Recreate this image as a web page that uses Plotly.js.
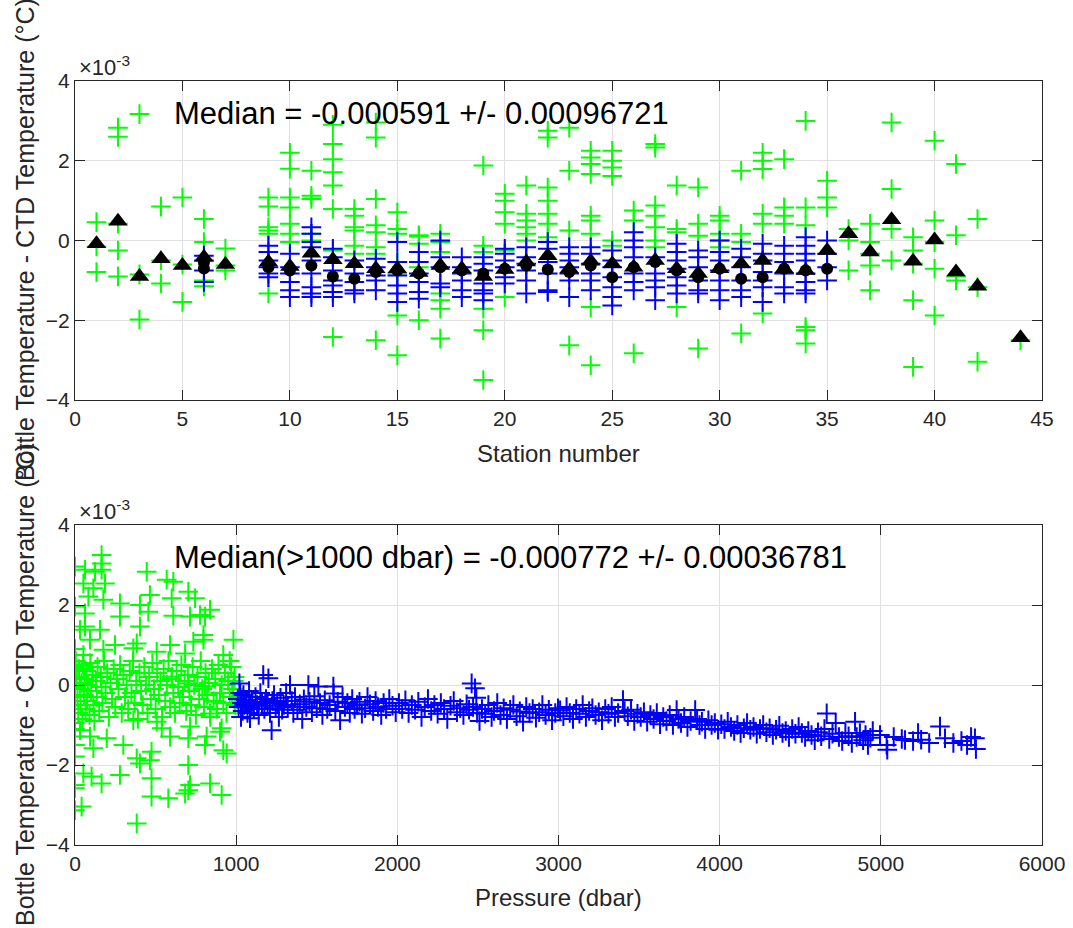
<!DOCTYPE html>
<html>
<head>
<meta charset="utf-8">
<script src="https://cdn.plot.ly/plotly-3.0.1.min.js"></script>
<style>html,body{margin:0;padding:0;background:#fff;}#chart{width:1073px;height:928px;}</style>
</head>
<body>
<div id="chart"></div>
<script>
// ---------- Top panel: per-station differences (units of 1e-3 degC) ----------
const greenTop = {
  1:[0.46,-0.15,-0.79], 2:[2.83,2.6,0.42,-0.25,-0.9], 3:[3.17,-0.85,-1.98], 4:[0.85,-0.5,-1.08],
  5:[1.08,-0.6,-1.54], 6:[0.54,-0.04,-1.0,-1.15], 7:[-0.2,-0.63,-0.75],
  9:[1.08,0.85,0.33,0.25,0.17,-1.33], 10:[2.2,1.8,1.08,0.83,0.42,0.17,-0.04],
  11:[1.75,1.12,1.04,0.17,0.0], 12:[2.9,2.42,2.04,1.71,1.38,0.79,-0.25,-2.42],
  13:[0.79,0.62,0.33,0.25,-0.13,-0.33], 14:[2.96,2.58,1.04,0.38,0.21,-0.17,-0.33,-2.5],
  15:[0.71,0.29,0.17,-0.54,-0.83,-1.88,-2.88], 16:[0.13,0.1,-0.08,-0.67,-2.0],
  17:[0.17,-0.04,-0.29,-1.33,-1.5,-1.71,-2.46], 19:[1.88,-0.13,-0.29,-1.71,-2.25,-3.5],
  20:[1.17,1.0,0.71,0.42,-0.25,-1.42], 21:[1.38,0.67,0.5,0.33,0.17,0.0],
  22:[2.75,2.58,1.33,1.0,0.67,0.42,0.08], 23:[2.83,1.75,0.25,-2.63],
  24:[2.25,2.08,1.92,1.67,0.62,0.5,0.17,-1.67,-3.13], 25:[2.25,2.0,1.83,1.62,0.0,-0.13],
  26:[0.75,0.5,-2.83], 27:[2.42,2.33,0.88,0.62,0.33,0.0,-0.17], 28:[1.38,0.29,0.21,-1.67],
  29:[1.33,0.42,0.12,-2.71], 30:[0.62,0.5,0.17,0.0,-0.17], 31:[1.75,0.17,-0.04,-2.33],
  32:[2.2,2.0,1.79,0.67,0.42,-1.83], 33:[2.04,0.83,0.62,0.42], 34:[3.0,0.83,0.38,-2.17,-2.25,-2.58],
  35:[1.5,1.08,0.83], 36:[0.29,0.0,-0.75], 37:[0.42,-0.04,-0.33,-0.63,-1.25],
  38:[2.96,1.29,0.29,-0.5], 39:[0.08,-0.25,-0.58,-1.5,-3.17], 40:[2.5,0.5,-0.04,-0.71,-1.88],
  41:[1.92,0.13,-0.9,-1.0], 42:[0.54,-1.17,-3.04], 44:[-2.5]
};
const blueTop = {
  6:[-0.38,-0.5,-0.75,-1.04], 9:[-0.13,-0.29,-0.5,-0.67,-0.83,-0.92],
  10:[-0.33,-0.67,-0.83,-1.04,-1.25,-1.42], 11:[0.33,0.17,-0.04,-0.17,-0.5,-0.83,-1.17,-1.33,-1.42],
  12:[-0.21,-0.42,-0.75,-1.0,-1.13,-1.29,-1.42], 13:[-0.5,-0.83,-1.04,-1.25,-1.33],
  14:[-0.46,-0.67,-0.88,-1.0,-1.25], 15:[-0.04,-0.54,-0.88,-1.13,-1.33,-1.54],
  16:[-0.29,-0.54,-0.83,-1.04,-1.29,-1.46], 17:[0.0,-0.42,-0.67,-1.08,-1.17],
  18:[-0.42,-0.67,-0.83,-1.0,-1.25,-1.42], 19:[-0.42,-0.58,-0.75,-1.08,-1.25,-1.33,-1.5],
  20:[-0.21,-0.33,-0.5,-0.67,-0.92,-1.08], 21:[-0.17,-0.42,-0.58,-0.75,-1.0,-1.33],
  22:[-0.04,-0.21,-0.54,-0.83,-1.25,-1.29], 23:[-0.17,-0.33,-0.5,-0.67,-0.83,-1.0,-1.42],
  24:[-0.17,-0.33,-0.58,-0.83,-1.0,-1.25], 25:[-0.25,-0.5,-0.67,-0.92,-1.17,-1.42,-1.63],
  26:[0.21,0.0,-0.17,-0.42,-0.83,-1.04,-1.25], 27:[-0.42,-0.83,-1.0,-1.17,-1.5],
  28:[-0.08,-0.29,-0.5,-0.71,-0.92,-1.13,-1.33], 29:[-0.25,-0.42,-0.67,-1.0,-1.25,-1.33],
  30:[0.0,-0.29,-0.5,-0.75,-1.0,-1.25,-1.5], 31:[-0.21,-0.42,-0.67,-1.0,-1.25,-1.42],
  32:[-0.08,-0.33,-0.5,-0.79,-1.0,-1.17,-1.54], 33:[-0.13,-0.33,-0.54,-0.83,-1.17,-1.33],
  34:[0.08,-0.13,-0.33,-0.5,-0.83,-1.04,-1.25,-1.33], 35:[0.0,-0.33,-0.67,-1.0]
};
const medAllStations = [1,2,3,4,5,6,7,9,10,11,12,13,14,15,16,17,18,19,20,21,22,23,24,25,26,27,28,29,30,31,32,33,34,35,36,37,38,39,40,41,42,44];
const medAllValues   = [-0.08,0.48,-0.9,-0.46,-0.63,-0.42,-0.6,-0.54,-0.65,-0.32,-0.48,-0.58,-0.71,-0.71,-0.8,-0.63,-0.71,-0.9,-0.73,-0.54,-0.38,-0.71,-0.52,-0.58,-0.67,-0.5,-0.71,-0.83,-0.71,-0.58,-0.5,-0.71,-0.75,-0.25,0.17,-0.29,0.52,-0.52,0.01,-0.79,-1.15,-2.44];
const medDeepStations = [6,6,9,10,11,12,13,14,15,16,17,18,19,20,21,22,23,24,25,26,27,28,29,30,31,32,33,34,35];
const medDeepValues   = [-0.55,-0.7,-0.67,-0.75,-0.63,-0.9,-0.96,-0.79,-0.75,-0.83,-0.67,-0.75,-0.83,-0.71,-0.63,-0.73,-0.79,-0.63,-0.92,-0.67,-0.54,-0.75,-0.92,-0.71,-0.96,-0.92,-0.71,-0.75,-0.71];

// ---------- Bottom panel: pressure (dbar) vs difference (1e-3 degC) ----------
const greenPress = [165,165,165,0,62,124,186,52,114,83,176,0,279,279,445,569,610,703,465,600,745,403,455,610,714,776,838,807,403,62,62,155,797,797,983,734,590,383,248,93,31,683,920,507,362,176,52,
  300,383,403,475,465,703,590,703,807,817,900,910,941,920,52,103,165,279,475,714,703,838,910,683,475,579,0,0,41,0,383,93,114,197,0,0,0,31,362,507,538,714,838,879,703,807,600,
  5,10,15,20,25,30,35,40,45,50,55,60,65,70,75,80,90,95,100,110,115,120,130,135,140,150,160,165,170,180,190,200,210,220,230,240,250,260,270,280,290,300,310,320,330,340,350,360,370,380,390,400,410,420,430,440,450,460,470,480,490,500,510,520,530,540,550,560,570,580,590,600,610,620,630,640,650,660,670,680,690,700,710,720,730,740,750,760,770,780,790,800,810,820,830,840,850,860,870,880,890,900,910,920,930,940,950,960,970,980,990,995,
  0,0,0,0,0,0,0,960,975,985,990];
const greenDiff  = [3.25,3.04,2.88,2.96,2.88,2.83,2.54,2.54,2.42,2.21,2.13,1.96,2.04,1.71,2.83,2.63,2.58,2.33,2.25,2.17,2.17,2.0,1.83,1.73,1.71,1.75,1.88,1.71,1.46,1.79,1.46,1.38,1.25,1.13,1.13,1.08,1.0,1.04,1.0,1.13,1.38,0.79,0.75,0.83,0.92,0.88,0.75,
  -1.5,-1.83,-1.96,-1.67,-1.88,-2.0,-1.29,-1.33,-1.5,-1.29,-1.17,-1.08,-1.71,-1.63,-2.21,-2.29,-2.46,-2.25,-2.33,-2.5,-2.63,-2.46,-2.75,-2.71,-2.79,-2.83,-2.5,-2.58,-3.04,-3.13,-3.46,-1.29,-1.58,-1.33,-1.79,-1.5,-1.29,-1.13,-0.88,-0.92,-1.08,-1.04,-0.71,-0.42,0.04,-0.04,0.21,
  0.6,0.2,-0.3,-0.7,0.4,-0.1,-0.5,0.05,-0.85,0.5,-0.25,0.15,-0.6,0.35,-0.4,0.0,-0.75,0.55,-0.15,0.25,-0.5,-0.9,0.1,-0.3,0.45,-0.65,0.2,-0.05,-0.45,0.6,-0.2,0.3,-0.8,0.05,-0.35,0.4,-0.55,0.15,-0.1,0.5,-0.7,0.25,-0.3,0.0,-0.6,0.35,-0.2,0.6,-0.45,0.1,-0.85,0.3,-0.15,-0.5,0.45,0.0,-0.7,0.2,-0.35,0.55,-0.1,-0.6,0.3,-0.25,0.1,-0.8,0.4,-0.4,0.0,0.6,-0.55,0.15,-0.2,-0.7,0.35,-0.05,-0.45,0.5,-0.3,0.1,-0.65,0.25,-0.15,-0.5,0.45,0.0,-0.75,0.2,-0.35,0.6,-0.1,-0.55,0.3,-0.25,0.05,-0.8,0.4,-0.4,0.15,-0.6,0.5,-0.2,0.0,-0.45,0.3,-0.7,0.1,-0.3,0.45,-0.1,0.2,-0.5,
  0.9,0.45,-0.05,-0.4,-0.6,-0.95,-1.1,0.6,-0.2,0.1,-0.45];

const bluePress = [1010,1015,1020,1025,1030,1035,1040,1045,1050,1060,1070,1080,1086,1090,1100,1110,1120,1130,1140,1150,1160,1168,1175,1185,1195,1200,1210,1220,1225,1235,1245,1255,1265,1275,1285,1295,
  1310,1320,1334,1345,1355,1365,1380,1395,1410,1420,1435,1448,1455,1470,1485,1500,1510,1520,1535,1550,1565,1580,1603,1605,1615,1630,1645,1660,1675,1690,1705,1720,1735,1750,1765,1780,1800,1815,1830,1850,1865,1880,1900,1915,1930,1950,1970,1990,
  2010,2030,2050,2070,2090,2110,2130,2150,2170,2190,2210,2230,2250,2270,2290,2310,2330,2350,2370,2390,2410,2430,2445,2461,2470,2482,2490,2495,
  2510,2525,2545,2565,2585,2600,2620,2640,2660,2680,2700,2720,2740,2760,2780,2800,2820,2840,2860,2880,2900,2920,2940,2960,2980,2997,
  3010,3030,3050,3070,3090,3110,3130,3150,3170,3190,3210,3230,3250,3270,3290,3310,3330,3350,3370,3400,3410,3430,3450,3470,3490,
  3510,3530,3550,3570,3590,3610,3630,3650,3670,3690,3710,3733,3745,3760,3780,3800,3820,3848,3860,3875,3890,3910,3930,3950,3970,3990,
  4010,4030,4050,4070,4090,4110,4130,4150,4170,4190,4210,4230,4250,4270,4290,4310,4330,4350,4370,4390,4410,4430,4450,4470,4490,
  4510,4530,4550,4570,4590,4610,4630,4650,4664,4680,4700,4720,4740,4760,4780,4800,4820,4840,4850,4870,4890,4905,4920,4935,4950,
  4995,5036,5040,5080,5130,5150,5200,5231,5250,5300,5367,5398,5450,5500,5535,5560,5584,5590];
const blueDiff = [-0.35,-0.55,0.04,-0.2,-0.8,-0.45,-0.65,-0.25,-0.5,-0.38,-0.7,-0.15,-0.83,-0.55,-0.42,-0.6,-0.3,-0.5,-0.75,-0.2,-0.45,0.25,-0.6,-0.35,-0.52,0.17,-0.7,-1.13,-0.4,-0.25,-0.58,-0.45,-0.8,-0.32,-0.62,-0.5,
  -0.2,-0.55,0.0,-0.4,-0.7,-0.3,-0.62,-0.48,-0.85,-0.36,-0.55,0.0,-0.42,-0.68,-0.28,-0.58,-0.04,-0.45,-0.75,-0.38,-0.6,-0.5,-0.04,-0.21,-0.65,-0.42,-0.88,-0.3,-0.55,-0.45,-0.7,-0.35,-0.6,-0.5,-0.42,-0.72,-0.58,-0.3,-0.48,-0.65,-0.4,-0.55,-0.75,-0.45,-0.6,-0.35,-0.52,-0.68,
  -0.45,-0.6,-0.38,-0.7,-0.5,-0.62,-0.42,-0.8,-0.55,-0.35,-0.65,-0.5,-0.72,-0.45,-0.6,-0.85,-0.52,-0.4,-0.68,-0.58,-0.75,-0.48,-0.62,0.04,-0.55,-0.08,-0.32,-0.7,
  -0.9,-0.6,-0.72,-0.5,-0.8,-0.65,-0.45,-0.75,-0.58,-0.85,-0.62,-0.5,-0.78,-0.66,-0.92,-0.55,-0.7,-0.6,-0.82,-0.68,-0.5,-0.75,-0.62,-0.88,-0.7,-0.58,
  -0.63,-0.78,-0.55,-0.7,-0.85,-0.6,-0.72,-0.5,-0.8,-0.65,-0.58,-0.75,-0.68,-0.88,-0.6,-0.72,-0.55,-0.8,-0.7,-0.375,-0.65,-0.78,-0.62,-0.9,-0.72,
  -0.8,-0.68,-0.92,-0.75,-0.85,-0.7,-0.98,-0.8,-0.9,-0.75,-1.0,-0.625,-0.85,-0.95,-0.8,-1.05,-0.9,-0.625,-0.85,-1.0,-0.92,-1.1,-0.88,-1.0,-0.95,-1.12,
  -0.98,-1.1,-0.92,-1.05,-1.15,-1.0,-1.2,-1.08,-0.95,-1.12,-1.05,-1.22,-1.1,-1.0,-1.18,-1.08,-1.25,-1.12,-1.02,-1.2,-1.15,-1.3,-1.1,-1.22,-1.05,
  -1.2,-1.3,-1.15,-1.25,-1.38,-1.18,-1.28,-1.1,-0.71,-1.35,-1.22,-0.95,-1.3,-1.4,-1.2,-1.28,-1.45,-0.92,-1.3,-1.2,-1.38,-1.25,-1.5,-1.32,-1.15,
  -1.25,-1.5,-1.62,-1.3,-1.35,-1.375,-1.4,-1.2,-1.37,-1.45,-1.04,-1.33,-1.45,-1.4,-1.5,-1.3,-1.33,-1.6];

const yTicks = [-4,-2,0,2,4];
const topText = 'Median = -0.000591 +/- 0.00096721';
const bottomText = 'Median(>1000 dbar) = -0.000772 +/- 0.00036781';
const yTitle = 'Bottle Temperature - CTD Temperature (\u00B0C)';
const xTitleTop = 'Station number';
const xTitleBottom = 'Pressure (dbar)';

// flatten station dictionaries
function flatten(d){ const xs=[], ys=[]; Object.keys(d).forEach(k=>{ d[k].forEach(v=>{ xs.push(+k); ys.push(v); }); }); return [xs,ys]; }
const [gTx, gTy] = flatten(greenTop);
const [bTx, bTy] = flatten(blueTop);

const FONT = 'Liberation Sans, Arial, Helvetica, sans-serif';
const TXT = '#262626';
const GREEN = '#00ff00', BLUE = '#0000ff';
const plus = (c)=>({symbol:'cross-thin', size:14, line:{color:c, width:2}, color:c});

const traces = [
  {x:gTx, y:gTy, xaxis:'x', yaxis:'y', type:'scatter', mode:'markers', marker:plus(GREEN)},
  {x:bTx, y:bTy, xaxis:'x', yaxis:'y', type:'scatter', mode:'markers', marker:plus(BLUE)},
  {x:medDeepStations, y:medDeepValues, xaxis:'x', yaxis:'y', type:'scatter', mode:'markers', marker:{symbol:'circle', size:12, color:'#000'}},
  {x:medAllStations, y:medAllValues, xaxis:'x', yaxis:'y', type:'scatter', mode:'markers', marker:{symbol:'triangle-up', size:17, color:'#000'}},
  {x:greenPress, y:greenDiff, xaxis:'x2', yaxis:'y2', type:'scatter', mode:'markers', marker:plus(GREEN)},
  {x:bluePress, y:blueDiff, xaxis:'x2', yaxis:'y2', type:'scatter', mode:'markers', marker:plus(BLUE)}
];

const W=1073, H=928;
const px = v=>v/W, py = v=>1-v/H;
const axBase = {
  showline:true, linecolor:'#262626', linewidth:1, mirror:'ticks',
  ticks:'inside', ticklen:10, tickcolor:'#262626', tickwidth:1,
  showgrid:true, gridcolor:'#e0e0e0', gridwidth:1, zeroline:false,
  tickfont:{family:FONT, size:21, color:TXT}, fixedrange:true
};

const layout = {
  width:W, height:H, margin:{l:0,r:0,t:0,b:0}, paper_bgcolor:'#fff', plot_bgcolor:'#fff',
  showlegend:false, font:{family:FONT, color:TXT},
  xaxis: Object.assign({}, axBase, {domain:[px(75),px(1042)], range:[0,45], tickvals:[0,5,10,15,20,25,30,35,40,45], anchor:'y'}),
  yaxis: Object.assign({}, axBase, {domain:[py(400),py(81)], range:[-4,4], tickvals:yTicks, anchor:'x'}),
  xaxis2: Object.assign({}, axBase, {domain:[px(75),px(1042)], range:[0,6000], tickvals:[0,1000,2000,3000,4000,5000,6000], anchor:'y2'}),
  yaxis2: Object.assign({}, axBase, {domain:[py(845),py(525)], range:[-4,4], tickvals:yTicks, anchor:'x2'}),
  annotations: [
    {xref:'paper', yref:'paper', x:px(172), y:py(113), xanchor:'left', yanchor:'middle', text:topText, showarrow:false, font:{family:FONT,size:31,color:'#000'}},
    {xref:'paper', yref:'paper', x:px(172), y:py(557), xanchor:'left', yanchor:'middle', text:bottomText, showarrow:false, font:{family:FONT,size:31,color:'#000'}},
    {xref:'paper', yref:'paper', x:px(77), y:py(66), xanchor:'left', yanchor:'middle', text:'\u00D710<sup>-3</sup>', showarrow:false, font:{family:FONT,size:22,color:TXT}},
    {xref:'paper', yref:'paper', x:px(77), y:py(510), xanchor:'left', yanchor:'middle', text:'\u00D710<sup>-3</sup>', showarrow:false, font:{family:FONT,size:22,color:TXT}},
    {xref:'paper', yref:'paper', x:px(558), y:py(453), xanchor:'center', yanchor:'middle', text:xTitleTop, showarrow:false, font:{family:FONT,size:24,color:TXT}},
    {xref:'paper', yref:'paper', x:px(558), y:py(897), xanchor:'center', yanchor:'middle', text:xTitleBottom, showarrow:false, font:{family:FONT,size:24,color:TXT}},
    {xref:'paper', yref:'paper', x:px(25), y:py(240), xanchor:'center', yanchor:'middle', textangle:-90, text:yTitle, showarrow:false, font:{family:FONT,size:25,color:TXT}},
    {xref:'paper', yref:'paper', x:px(25), y:py(685), xanchor:'center', yanchor:'middle', textangle:-90, text:yTitle, showarrow:false, font:{family:FONT,size:25,color:TXT}}
  ]
};

Plotly.newPlot('chart', traces, layout, {staticPlot:true, displayModeBar:false});
</script>
</body>
</html>
